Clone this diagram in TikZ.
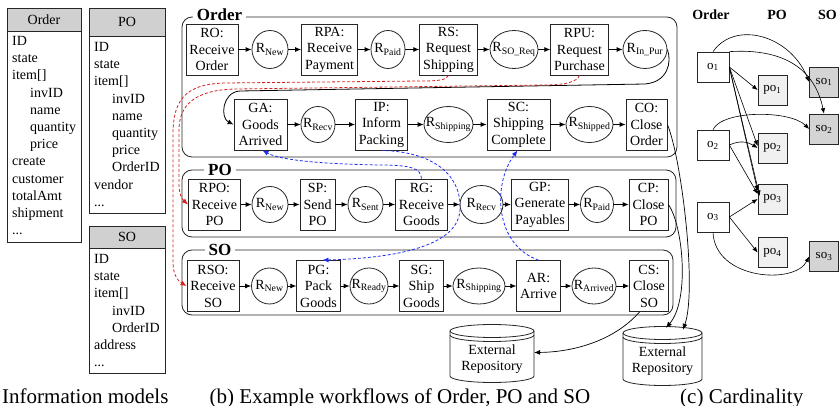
\documentclass[tikz,border=0pt]{standalone}
\usepackage{fontspec}
\setmainfont{Liberation Serif}
\usetikzlibrary{arrows.meta,shapes.geometric}
\definecolor{hdrgray}{HTML}{D0D0D0}
\definecolor{pofill}{HTML}{F0F0F0}
\definecolor{sofill}{HTML}{D4D4D4}
\definecolor{lnkred}{HTML}{D42020}
\definecolor{lnkblue}{HTML}{1E2EF0}
% state label: R with a subscript, zero width so the ellipse keeps its set size
\newcommand\stname[1]{\makebox[0pt]{R\textsubscript{#1}}}
% trailing "more fields" marker
\newcommand\morefields{.{}.{}.}
% repository drum: centre x, top y, bottom y, x radius
\newcommand\repocyl[4]{%
  \draw[cyl] (#1,#2) ellipse [x radius=#4, y radius=6.5];
  \draw[cyl] (#1-#4,#2-4) arc [start angle=180, end angle=360, x radius=#4, y radius=6.5];
  \draw[cyl] (#1-#4,#2) -- (#1-#4,#3) arc [start angle=180, end angle=360, x radius=#4, y radius=6.5] -- (#1+#4,#2);
}
\begin{document}
\begin{tikzpicture}[x=1pt,y=1pt,
  fieldtxt/.style={anchor=base west, inner sep=0pt, font=\fontsize{14}{17}\selectfont},
  hdr/.style={draw=black!85, fill=hdrgray, line width=0.8pt, inner sep=0pt, font=\fontsize{14}{17}\selectfont},
  tbl/.style={draw=black!85, line width=0.8pt},
  act/.style={draw=black!85, line width=0.8pt, rectangle, align=center, minimum height=51pt,
    inner xsep=3.5pt, inner ysep=0pt, font=\fontsize{14}{16.5}\selectfont},
  st/.style={draw=black!85, line width=0.8pt, ellipse, inner sep=0pt, minimum width=#1,
    minimum height=36pt, font=\fontsize{14}{16}\selectfont},
  flow/.style={line width=0.8pt, -{Latex[length=6pt,width=5pt]}},
  grp/.style={draw=black!85, line width=0.8pt, rounded corners=10pt},
  grptitle/.style={fill=white, inner xsep=4pt, inner ysep=1pt, font=\fontsize{17}{17}\selectfont\bfseries},
  reqlink/.style={flow, draw=lnkred, dash pattern=on 3pt off 2pt},
  ackl/.style={flow, draw=lnkblue, dash pattern=on 3pt off 2pt},
  cyl/.style={draw=black!85, line width=0.8pt},
  repotxt/.style={align=center, inner sep=0pt, font=\fontsize{14}{16}\selectfont},
  cbox/.style={draw=black!85, line width=0.7pt, minimum width=#1, minimum height=30pt,
    inner sep=0pt, font=\fontsize{13}{13}\selectfont},
  chead/.style={inner sep=0pt, font=\fontsize{14}{14}\selectfont\bfseries},
  card/.style={line width=0.6pt, -{Latex[length=5.5pt,width=4.5pt]}},
  captxt/.style={inner sep=0pt, font=\fontsize{21}{21}\selectfont}
]
\useasboundingbox (0,0) rectangle (839,-406);

% ---------------- information models ----------------
\node[hdr, minimum width=74pt, minimum height=23.5pt] (hOrd) at (44,-19.75) {Order};
\draw[tbl] (7,-31.5) rectangle (81,-242);
\foreach \ind/\txt [count=\k] in {0/ID,0/state,0/item[],1/invID,1/name,1/quantity,1/price,0/create,0/customer,0/totalAmt,0/shipment,0/\morefields}
  \node[fieldtxt] (fOrd\k) at ({12+18*\ind},{-45.6-17.2*(\k-1)}) {\txt};

\node[hdr, minimum width=76pt, minimum height=27.5pt] (hPO) at (127,-22.25) {PO};
\draw[tbl] (89,-36) rectangle (165,-213);
\foreach \ind/\txt [count=\k] in {0/ID,0/state,0/item[],1/invID,1/name,1/quantity,1/price,1/OrderID,0/vendor,0/\morefields}
  \node[fieldtxt] (fPO\k) at ({94+18*\ind},{-51.6-17.2*(\k-1)}) {\txt};

\node[hdr, minimum width=76pt, minimum height=22.5pt] (hSO) at (127,-237.25) {SO};
\draw[tbl] (89,-248.5) rectangle (165,-373);
\foreach \ind/\txt [count=\k] in {0/ID,0/state,0/item[],1/invID,1/OrderID,0/address,0/\morefields}
  \node[fieldtxt] (fSO\k) at ({94+18*\ind},{-263.6-17.2*(\k-1)}) {\txt};

\node[captxt, anchor=base west] (capA) at (2,-403) {Information models};

% ---------------- workflows ----------------
\draw[grp] (182,-17) rectangle (677,-157);
\node[grptitle] (tOrd) at (219.5,-15) {Order};
\draw[grp] (182,-170) rectangle (676,-237);
\node[grptitle] (tPO) at (220,-170) {PO};
\draw[grp] (182,-250) rectangle (673,-315);
\node[grptitle] (tSO) at (220,-250) {SO};

% Order, first row
\node[act] (RO) at (212,-49.5) {RO:\\Receive\\Order};
\node[st=36pt, minimum height=38pt] (oRNew) at (270,-49.5) {\stname{New}};
\node[act] (RPA) at (329.5,-49.5) {RPA:\\Receive\\Payment};
\node[st=34pt, minimum height=38pt] (oRPaid) at (388,-49.5) {\stname{Paid}};
\node[act] (RS) at (448.5,-49.5) {RS:\\Request\\Shipping};
\node[st=48pt, minimum height=38pt] (oRSOReq) at (514,-49.5) {\stname{SO\_Req}};
\node[act] (RPU) at (579.5,-49.5) {RPU:\\Request\\Purchase};
\node[st=44pt, minimum height=38pt] (oRInPur) at (645,-49.5) {\stname{In\_Pur}};
% Order, second row
\node[act, minimum width=53pt] (GA) at (260.5,-124.5) {GA:\\Goods\\Arrived};
\node[st=34pt] (oRRecv) at (318,-124.5) {\stname{Recv}};
\node[act] (IP) at (381.5,-124.5) {IP:\\Inform\\Packing};
\node[st=49pt] (oRShipping) at (448.5,-124.5) {\stname{Shipping}};
\node[act, minimum width=63pt] (SC) at (518.5,-124.5) {SC:\\Shipping\\Complete};
\node[st=47pt] (oRShipped) at (589.5,-124.5) {\stname{Shipped}};
\node[act, minimum width=41pt] (CO) at (646.5,-124.5) {CO:\\Close\\Order};
% PO row
\node[act] (RPO) at (214.5,-204.5) {RPO:\\Receive\\PO};
\node[st=36pt] (pRNew) at (270,-204.5) {\stname{New}};
\node[act] (SP) at (317.5,-204.5) {SP:\\Send\\PO};
\node[st=35pt] (pRSent) at (365.5,-204.5) {\stname{Sent}};
\node[act] (RG) at (421.5,-204.5) {RG:\\Receive\\Goods};
\node[st=43pt, minimum height=38pt] (pRRecv) at (481.5,-204.5) {\stname{Recv}};
\node[act] (GP) at (540,-204.5) {GP:\\Generate\\Payables};
\node[st=33pt] (pRPaid) at (597,-204.5) {\stname{Paid}};
\node[act] (CP) at (648.5,-204.5) {CP:\\Close\\PO};
% SO row
\node[act] (RSO) at (213,-286) {RSO:\\Receive\\SO};
\node[st=36pt] (sRNew) at (269.5,-286) {\stname{New}};
\node[act] (PG) at (318.5,-286) {PG:\\Pack\\Goods};
\node[st=38pt] (sRReady) at (369,-286) {\stname{Ready}};
\node[act] (SG) at (421.5,-286) {SG:\\Ship\\Goods};
\node[st=52pt] (sRShipping) at (479,-286) {\stname{Shipping}};
\node[act] (AR) at (538.5,-286) {AR:\\Arrive};
\node[st=44pt] (sRArrived) at (594,-286) {\stname{Arrived}};
\node[act] (CS) at (649,-286) {CS:\\Close\\SO};

% sequence arrows
\foreach \a/\b in {RO/oRNew,oRNew/RPA,RPA/oRPaid,oRPaid/RS,RS/oRSOReq,oRSOReq/RPU,RPU/oRInPur,
  GA/oRRecv,oRRecv/IP,IP/oRShipping,oRShipping/SC,SC/oRShipped,oRShipped/CO,
  RPO/pRNew,pRNew/SP,SP/pRSent,pRSent/RG,RG/pRRecv,pRRecv/GP,GP/pRPaid,pRPaid/CP,
  RSO/sRNew,sRNew/PG,PG/sRReady,sRReady/SG,SG/sRShipping,sRShipping/AR,AR/sRArrived,sRArrived/CS}
  \draw[flow] (\a) -- (\b);

% wrap from the first Order row to the second
\draw[flow] (oRInPur.east) .. controls (672,-62) and (668,-82) .. (645,-84)
  -- (240,-91) .. controls (222,-92) and (220,-118) .. (GA.west);

% requests to the other workflows
\draw[reqlink] (RS.south) .. controls (446,-80) and (440,-81) .. (420,-81)
  -- (225,-83) .. controls (185,-84) and (173,-100) .. (173,-135)
  -- (173,-262) .. controls (173,-275) and (178,-281) .. (RSO.west);
\draw[reqlink] (RPU.south) .. controls (577,-82) and (565,-85) .. (545,-85)
  -- (235,-89) .. controls (195,-90) and (179,-105) .. (179,-130)
  -- (179,-185) .. controls (179,-195) and (183,-200) .. (RPO.west);

% notifications
\draw[ackl] (IP.south) .. controls (440,-152) and (462,-180) .. (460,-210)
  .. controls (458,-245) and (400,-258) .. ([xshift=4pt]PG.north);
\draw[ackl] (RG.north) .. controls (421,-168) and (410,-165) .. (380,-165)
  .. controls (320,-164) and (280,-160) .. ([xshift=2pt]GA.south);
\draw[ackl] (AR.north) .. controls (495,-245) and (492,-185) .. ([xshift=-1pt]SC.south);

% repositories
\repocyl{492}{-331}{-376}{42}
\node[repotxt, minimum width=84pt, minimum height=44pt] (repoA) at (492,-359.5) {External\\Repository};
\repocyl{662.5}{-333}{-379}{39.5}
\node[repotxt, minimum width=79pt, minimum height=42pt] (repoB) at (662.5,-361) {External\\Repository};
\coordinate (repoBinA) at ([shift={(3.5,12)}]repoB.north);
\coordinate (repoBinB) at ([shift={(20.5,10)}]repoB.north);

\draw[flow, line width=0.7pt] (CS.250) .. controls (615,-340) and (575,-352) .. ([yshift=7pt]repoA.east);
\draw[flow, line width=0.7pt] (CO.east) .. controls (682,-160) and (697,-290) .. (repoBinB);
\draw[flow, line width=0.7pt] (CP.east) .. controls (683,-225) and (690,-300) .. (repoBinA);

\node[captxt, anchor=base] (capB) at (400,-403) {(b) Example workflows of Order, PO and SO};

% ---------------- cardinality ----------------
\node[chead] (cOrd) at (711,-15) {Order};
\node[chead] (cPO) at (777,-15) {PO};
\node[chead] (cSO) at (827.5,-15) {SO};

\node[cbox=32pt] (o1) at (713,-67) {o\textsubscript{1}};
\node[cbox=32pt] (o2) at (713,-145) {o\textsubscript{2}};
\node[cbox=32pt] (o3) at (713,-217) {o\textsubscript{3}};
\node[cbox=29pt, fill=pofill] (po1) at (772.5,-90) {po\textsubscript{1}};
\node[cbox=29pt, fill=pofill] (po2) at (772.5,-148) {po\textsubscript{2}};
\node[cbox=29pt, fill=pofill] (po3) at (772.5,-199) {po\textsubscript{3}};
\node[cbox=29pt, fill=pofill] (po4) at (772.5,-252.5) {po\textsubscript{4}};
\node[cbox=29pt, fill=sofill] (so1) at (824,-82) {so\textsubscript{1}};
\node[cbox=29pt, fill=sofill] (so2) at (824,-129) {so\textsubscript{2}};
\node[cbox=29pt, fill=sofill] (so3) at (824,-256.5) {so\textsubscript{3}};

\draw[card] (o1.north) .. controls (735,-20) and (790,-35) .. (so1.west);
\draw[card] (o1.north east) .. controls (785,-48) and (815,-70) .. (so2.north);
\draw[card] (o1.east) -- (po1.west);
\draw[card] (o1.east) -- ([yshift=2pt]po2.west);
\draw[card] (o1.east) -- ([yshift=8pt]po3.west);
\draw[card] (o1.east) -- ([shift={(2pt,3pt)}]po3.west);
\draw[card] (o2.north) .. controls (722,-110) and (790,-110) .. (so2.west);
\draw[card] (o2.east) .. controls (740,-140) and (748,-142) .. (po2.west);
\draw[card] (o2.east) -- ([yshift=5pt]po3.west);
\draw[card] (o3.east) -- (po3.west);
\draw[card] (o3.east) -- (po4.west);
\draw[card] (o3.south) .. controls (715,-280) and (795,-285) .. (so3.west);

\node[captxt, anchor=base west] (capC) at (680,-403) {(c) Cardinality};
\end{tikzpicture}
\end{document}
